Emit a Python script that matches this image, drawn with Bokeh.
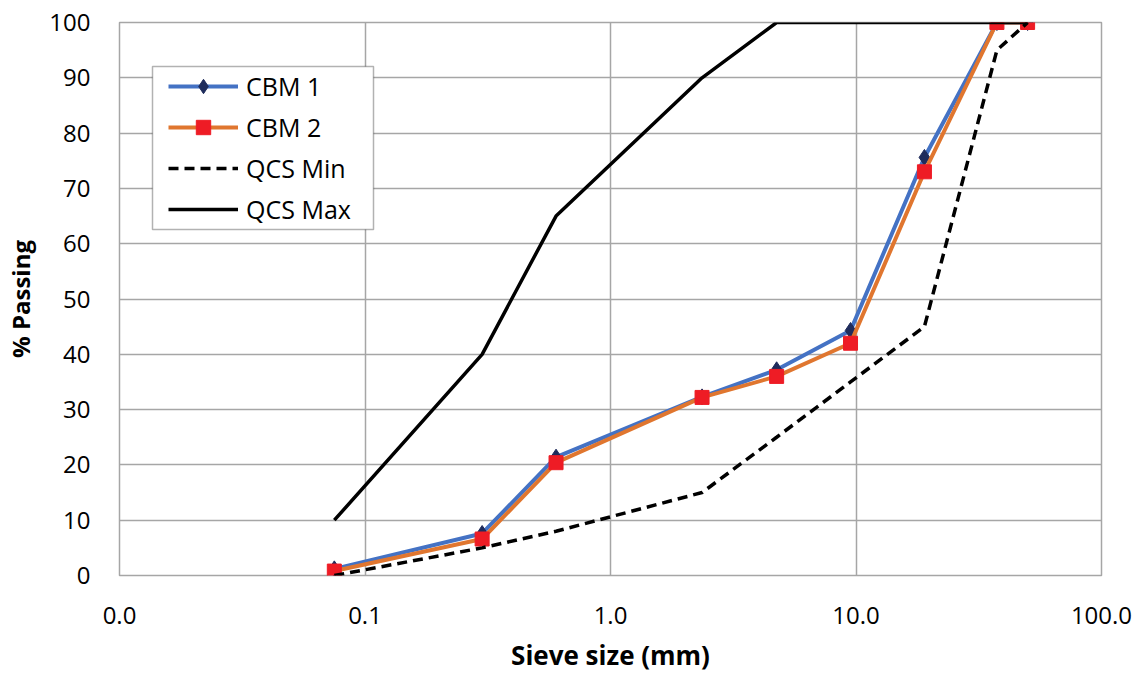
from bokeh.plotting import figure
from bokeh.models import Range1d, FixedTicker, Legend, LegendItem, BoxAnnotation
from bokeh.embed import file_html
from bokeh.resources import INLINE

sieve_mm = [0.075, 0.3, 0.6, 2.36, 4.75, 9.5, 19, 37.5, 50]
cbm1 = [1.2, 7.6, 21.4, 32.3, 37.2, 44.3, 75.6, 100, 100]
cbm2 = [0.8, 6.6, 20.4, 32.2, 36.0, 42.0, 73.0, 100, 100]
qcs_min = [0, 5, 8, 15, 25, 35, 45, 95, 100]
qcs_max = [10, 40, 65, 90, 100, 100, 100, 100, 100]

x_ticks = [0.01, 0.1, 1, 10, 100]
x_tick_labels = ["0.0", "0.1", "1.0", "10.0", "100.0"]
y_ticks = [0, 10, 20, 30, 40, 50, 60, 70, 80, 90, 100]
x_title = "Sieve size (mm)"
y_title = "% Passing"

W, H = 1144, 675
p = figure(width=W, height=H, x_axis_type="log",
           x_range=Range1d(0.01, 100), y_range=Range1d(0, 100),
           output_backend="svg", toolbar_location=None,
           min_border_left=119, min_border_right=43,
           min_border_top=22, min_border_bottom=99)
p.background_fill_color = "white"
p.border_fill_color = "white"
p.outline_line_color = "#A6A6A6"
p.outline_line_width = 1.5

p.xaxis.ticker = FixedTicker(ticks=x_ticks)
p.xaxis.major_label_overrides = {t: l for t, l in zip(x_ticks, x_tick_labels)}
p.yaxis.ticker = FixedTicker(ticks=y_ticks)
for ax in (p.xaxis, p.yaxis):
    ax.axis_line_color = None
    ax.major_tick_line_color = None
    ax.minor_tick_line_color = None
    ax.major_tick_in = 0
    ax.major_tick_out = 0
    ax.major_label_text_color = "black"
    ax.major_label_text_font = "Open Sans"
    ax.major_label_text_font_size = "24px"
    ax.axis_label_text_color = "black"
    ax.axis_label_text_font = "Open Sans"
    ax.axis_label_text_font_style = "bold"

p.xaxis.major_label_standoff = 31
p.xaxis.axis_label = x_title
p.xaxis.axis_label_text_font_size = "26px"
p.xaxis.axis_label_standoff = 10

p.yaxis.major_label_standoff = 29
p.yaxis.axis_label = y_title
p.yaxis.axis_label_text_font_size = "24px"
p.yaxis.axis_label_standoff = 9

for g in (p.xgrid, p.ygrid):
    g.grid_line_color = "#A6A6A6"
    g.grid_line_width = 1.5

l1 = p.line(sieve_mm, cbm1, line_color="#4472C4", line_width=4)
m1 = p.scatter(sieve_mm, cbm1, marker="diamond", size=16, fill_color="#1F2C5C", line_color="#1F2C5C")
l2 = p.line(sieve_mm, cbm2, line_color="#E0762F", line_width=4)
m2 = p.scatter(sieve_mm, cbm2, marker="square", size=14, fill_color="#EE1C25", line_color="#EE1C25")
lmin = p.line(sieve_mm, qcs_min, line_color="black", line_width=3.5, line_dash="10 6")
lmax = p.line(sieve_mm, qcs_max, line_color="black", line_width=3.5)

# legend frame (screen units relative to the plot frame, y upward)
box = BoxAnnotation(left=33, right=254, top=509, bottom=346,
                    left_units="screen", right_units="screen",
                    top_units="screen", bottom_units="screen",
                    fill_color="white", fill_alpha=1,
                    line_color="black", line_width=1.5, level="annotation")
p.add_layout(box)

legend = Legend(items=[
    LegendItem(label="CBM 1", renderers=[l1, m1]),
    LegendItem(label="CBM 2", renderers=[l2, m2]),
    LegendItem(label="QCS Min", renderers=[lmin]),
    LegendItem(label="QCS Max", renderers=[lmax]),
], location=(49, 348))
legend.border_line_color = None
legend.background_fill_alpha = 0
legend.label_text_font = "Open Sans"
legend.label_text_font_size = "25px"
legend.label_text_color = "black"
legend.glyph_width = 70
legend.glyph_height = 36
legend.label_height = 36
legend.spacing = 5
legend.padding = 4
legend.margin = 0
legend.label_standoff = 8
p.add_layout(legend, "center")

open("out.html", "w").write(file_html(p, INLINE))
